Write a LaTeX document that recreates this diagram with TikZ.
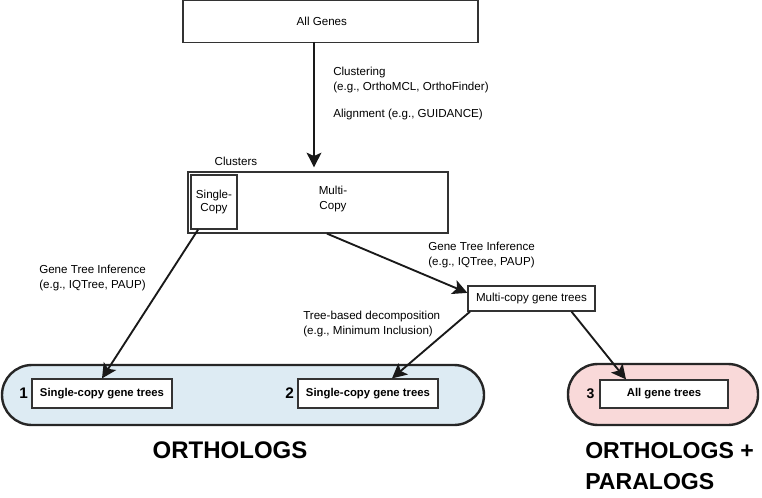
\documentclass[tikz,border=0pt]{standalone}
\usepackage{fontspec}
\setmainfont{Liberation Sans}
\usetikzlibrary{arrows.meta,positioning}
\definecolor{orthoblue}{HTML}{DDEBF3}
\definecolor{paralogpink}{HTML}{F9D9D9}
\definecolor{edgegray}{HTML}{333333}
\tikzset{
	caja/.style={rectangle, draw=edgegray, line width=0.9pt, fill=white,
		inner sep=0pt, font=\fontsize{8.7}{10.4}\selectfont, align=center},
	cajaarbol/.style={caja, font=\bfseries\fontsize{8.5}{10}\selectfont},
	etiqueta/.style={inner sep=0pt, font=\fontsize{8.7}{11.25}\selectfont, align=left},
	numero/.style={inner sep=1pt, font=\bfseries\fontsize{11.5}{12}\selectfont},
	grupo/.style={draw=black!85, line width=1.8pt, rounded corners=22.5pt},
	titulogrupo/.style={inner sep=0pt, font=\bfseries\fontsize{18}{23.25}\selectfont, align=left},
	flujo/.style={draw=black!90, line width=1.4pt, -{Stealth[length=11pt, width=11pt, inset=2.5pt]}}
}

\begin{document}
\begin{tikzpicture}[x=0.75pt, y=-0.75pt]
	\useasboundingbox (0,0) rectangle (762,498);
	
	% fondos de los grupos
	\draw[grupo, fill=orthoblue] (2,365) rectangle (484,425);
	\draw[grupo, fill=paralogpink] (568,364) rectangle (758,425);
	
	\node[caja, minimum width=221.25pt, minimum height=31.5pt] (allgenes) at (330.5,21.5) {All Genes\hspace*{13pt}};
	\coordinate (gtop) at (314,42);
	
	\node[caja, minimum width=195pt, minimum height=45.75pt] (clusters) at (318,202.5) {};
	\node[caja, minimum width=34.5pt, minimum height=40.5pt] (single) at (214,202) {Single-\\Copy};
	\node[etiqueta, align=center] (multicopy) at (333,199) {Multi-\\Copy};
	\node[etiqueta] (clusterlbl) at (236,161) {Clusters};
	
	\node[etiqueta, anchor=west] (clustering) at (333,80.5) {Clustering\\(e.g., OrthoMCL, OrthoFinder)};
	\node[etiqueta, anchor=west] (alignment) at (333,115) {Alignment (e.g., GUIDANCE)};
	
	\node[caja, minimum width=95.25pt, minimum height=18.75pt] (multi) at (531.5,298.5) {Multi-copy gene trees};
	\node[etiqueta, anchor=west] (gtiright) at (428,255.5) {Gene Tree Inference\\(e.g., IQTree, PAUP)};
	\node[etiqueta, anchor=west] (gtileft) at (39,278.5) {Gene Tree Inference\\(e.g., IQTree, PAUP)};
	\node[etiqueta, anchor=west] (treebased) at (303,324.5) {Tree-based decomposition\\(e.g., Minimum Inclusion)};
	
	\node[cajaarbol, minimum width=105pt, minimum height=21.75pt] (box1) at (102,393.5) {Single-copy gene trees};
	\node[cajaarbol, minimum width=105pt, minimum height=21.75pt] (box2) at (368,393.5) {Single-copy gene trees};
	\node[cajaarbol, minimum width=96pt, minimum height=21pt] (box3) at (664,394) {All gene trees};
	\node[numero, left=1.5pt of box1] (num1) {1};
	\node[numero, left=1.5pt of box2] (num2) {2};
	\node[numero, left=2.5pt of box3, font=\bfseries\fontsize{10.5}{12}\selectfont] (num3) {3};
	
	\node[titulogrupo] (orthologs) at (230,450) {ORTHOLOGS};
	\node[titulogrupo, anchor=west, font=\bfseries\fontsize{17.3}{23.25}\selectfont] (paralogs) at (585,466.5) {ORTHOLOGS +\\PARALOGS};
	
	% flechas
	\draw[flujo, line width=1.6pt, shorten >=3pt] (gtop) -- (clusters.north -| gtop);
	\draw[flujo] (single.240) -- (box1.north);
	\draw[flujo] (clusters.286) -- (multi.175);
	\draw[flujo] ([xshift=2pt]multi.south west) -- ([xshift=18pt]box2.north);
	\draw[flujo] ([xshift=30pt]multi.south) -- ([xshift=-28.5pt]box3.north);
\end{tikzpicture}
\end{document}
